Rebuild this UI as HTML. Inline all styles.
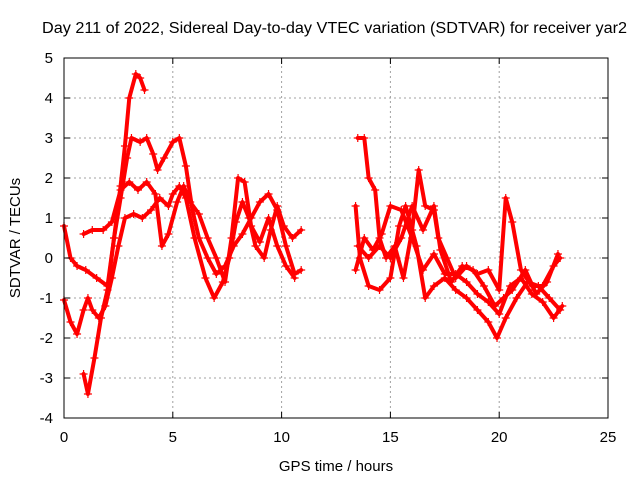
<!DOCTYPE html>
<html><head><meta charset="utf-8"><style>
body{margin:0;background:#fff}
svg text{font-family:"Liberation Sans",sans-serif;font-size:14px;fill:#000}
</style></head><body>
<svg id="chart" width="640" height="480" viewBox="0 0 640 480" xmlns="http://www.w3.org/2000/svg">
<text x="42" y="33" textLength="585" lengthAdjust="spacingAndGlyphs" style="font-size:15.5px">Day 211 of 2022, Sidereal Day-to-day VTEC variation (SDTVAR) for receiver yar2</text>
<g id="grid"></g>
<g id="series"></g>
<rect x="64" y="58" width="544" height="360" fill="none" stroke="#000" stroke-width="1"/>
<g id="ticks"></g>
<text x="336" y="471" text-anchor="middle" style="font-size:15px">GPS time / hours</text>
<text transform="translate(20,238) rotate(-90)" text-anchor="middle" style="font-size:15px">SDTVAR / TECUs</text>
</svg>
<script>
const xTicks=[0,5,10,15,20,25];
const yTicks=[-4,-3,-2,-1,0,1,2,3,4,5];
const seriesA=[[0,-1.05],[0.3,-1.6],[0.6,-1.9],[0.9,-1.3],[1.1,-1.0],[1.3,-1.3],[1.6,-1.5],[1.9,-1.2],[2.2,-0.5],[2.5,0.3],[2.8,1.0],[3.2,1.1],[3.6,1.0],[4.0,1.2],[4.4,1.5],[4.8,1.3],[5.0,1.6],[5.3,1.8],[5.6,1.5],[6.0,0.5],[6.5,-0.5],[6.9,-1.0],[7.3,-0.6],[7.6,0],[7.9,0.9],[8.2,1.4],[8.5,1.0],[8.8,0.3],[9.2,0.0],[9.5,0.7],[9.8,1.3],[10.1,0.8],[10.5,0.5],[10.9,0.7]];
const seriesB=[[0,0.8],[0.3,0],[0.6,-0.2],[1.0,-0.3],[1.5,-0.5],[2.0,-0.7],[2.3,0.5],[2.6,1.5],[2.9,2.5],[3.1,3.0],[3.5,2.9],[3.8,3.0],[4.1,2.6],[4.3,2.2],[4.6,2.5],[5.0,2.9],[5.3,3.0],[5.6,2.3],[5.9,1.2],[6.2,0.5],[6.6,0],[7.0,-0.4],[7.4,-0.2],[7.8,0.3],[8.2,0.6],[8.6,1.0],[9.0,1.4],[9.4,1.6],[9.8,1.2],[10.2,0.3],[10.6,-0.4],[10.9,-0.3]];
const seriesC=[[0.9,-2.9],[1.1,-3.4],[1.4,-2.5],[1.7,-1.5],[2.0,-0.8],[2.3,0.5],[2.6,1.8],[2.8,2.8],[3.0,4.0],[3.3,4.6],[3.5,4.5],[3.7,4.2]];
const seriesD=[[0.9,0.6],[1.3,0.7],[1.8,0.7],[2.2,0.9],[2.6,1.7],[3.0,1.9],[3.4,1.7],[3.8,1.9],[4.2,1.6],[4.5,0.3],[4.8,0.6],[5.2,1.4],[5.5,1.8],[5.8,1.4],[6.2,1.1],[6.6,0.5],[7.0,0],[7.4,-0.6],[7.7,0.5],[8.0,2.0],[8.3,1.9],[8.6,0.8],[9.0,0.4],[9.4,1.0],[9.8,0.3],[10.2,-0.2],[10.6,-0.5]];
const seriesE=[[13.5,3.0],[13.8,3.0],[14.0,2.0],[14.3,1.7],[14.5,0.5],[14.8,0],[15.2,0.3],[15.6,-0.5],[16.0,0.7],[16.3,2.2],[16.6,1.3],[17.0,1.2],[17.2,0.5],[17.6,0],[18.0,-0.5],[18.5,-0.2],[19.0,-0.4],[19.5,-0.3],[20.0,-0.8],[20.3,1.5],[20.6,0.9],[21.0,-0.3],[21.5,-0.7],[22.0,-0.7],[22.5,-0.2],[22.8,0.0]];
const seriesF=[[13.4,1.3],[13.6,0],[14.0,-0.7],[14.5,-0.8],[15.0,-0.5],[15.4,0.8],[15.7,1.3],[16.2,0.3],[16.6,-1.0],[17.0,-0.7],[17.5,-0.5],[18.0,-0.8],[18.5,-1.0],[19.0,-1.3],[19.5,-1.6],[19.9,-2.0],[20.3,-1.5],[20.8,-1.0],[21.3,-0.6],[21.8,-0.7],[22.3,-1.0],[22.8,-1.3]];
const seriesG=[[13.4,-0.3],[13.8,0.5],[14.2,0.2],[14.6,0.6],[15.0,1.3],[15.5,1.2],[16.0,0.5],[16.5,-0.3],[17.0,0.1],[17.5,-0.4],[18.0,-0.4],[18.5,-0.6],[19.0,-0.9],[19.5,-1.1],[20.0,-1.4],[20.5,-0.7],[21.0,-0.5],[21.5,-0.9],[22.0,-1.1],[22.5,-1.5],[22.9,-1.2]];
const seriesH=[[13.5,0.3],[14.0,0],[14.5,0.3],[15.0,0],[15.5,0.5],[16.0,1.3],[16.5,0.7],[17.0,1.3],[17.3,0.2],[17.8,-0.6],[18.3,-0.2],[18.8,-0.3],[19.3,-0.7],[19.8,-1.2],[20.2,-1.0],[20.6,-0.8],[21.2,-0.3],[21.7,-0.9],[22.2,-0.6],[22.7,0.1]];
const allSeries=[seriesA,seriesB,seriesC,seriesD,seriesE,seriesF,seriesG,seriesH];
const NS="http://www.w3.org/2000/svg";
const X0=64,X1=608,Y0=418,Y1=58;
function xs(v){return X0+(v-0)/25*(X1-X0);}
function ys(v){return Y0-(v+4)/9*(Y0-Y1);}
function mk(tag,attrs,parent){const e=document.createElementNS(NS,tag);for(const k in attrs)e.setAttribute(k,attrs[k]);parent.appendChild(e);return e;}
const grid=document.getElementById('grid'),ticks=document.getElementById('ticks'),ser=document.getElementById('series');
xTicks.forEach(t=>{const x=xs(t);
 if(t>0&&t<25){const g=mk('line',{x1:x,x2:x,y1:Y0,y2:Y1,stroke:'#a0a0a0','stroke-dasharray':'2,3'},grid);}
 mk('line',{x1:x,x2:x,y1:Y0,y2:Y0-6,stroke:'#000'},ticks);mk('line',{x1:x,x2:x,y1:Y1,y2:Y1+6,stroke:'#000'},ticks);
 const l=mk('text',{x:x,y:442,'text-anchor':'middle',style:'font-size:15px'},ticks);l.textContent=t;
 });
yTicks.forEach(t=>{const y=ys(t);
 if(t>-4&&t<5){const g=mk('line',{x1:X0,x2:X1,y1:y,y2:y,stroke:'#a0a0a0','stroke-dasharray':'2,3'},grid);}
 mk('line',{x1:X0,x2:X0+6,y1:y,y2:y,stroke:'#000'},ticks);mk('line',{x1:X1,x2:X1-6,y1:y,y2:y,stroke:'#000'},ticks);
 const l=mk('text',{x:53,y:y+5,'text-anchor':'end',style:'font-size:15px'},ticks);l.textContent=t;
 });
allSeries.forEach((s,i)=>{
 const g=mk('g',{},ser);
 
 
 mk('polyline',{points:s.map(p=>xs(p[0])+','+ys(p[1])).join(' '),fill:'none',stroke:'#f00','stroke-width':4,'stroke-linejoin':'round','stroke-linecap':'round'},g);
 s.forEach(p=>{const x=xs(p[0]),y=ys(p[1]);
  const m=mk('path',{d:`M${x-4},${y}H${x+4}M${x},${y-4}V${y+4}`,stroke:'#f00','stroke-width':1.2},g);
  
  });
});
</script>
</body></html>
